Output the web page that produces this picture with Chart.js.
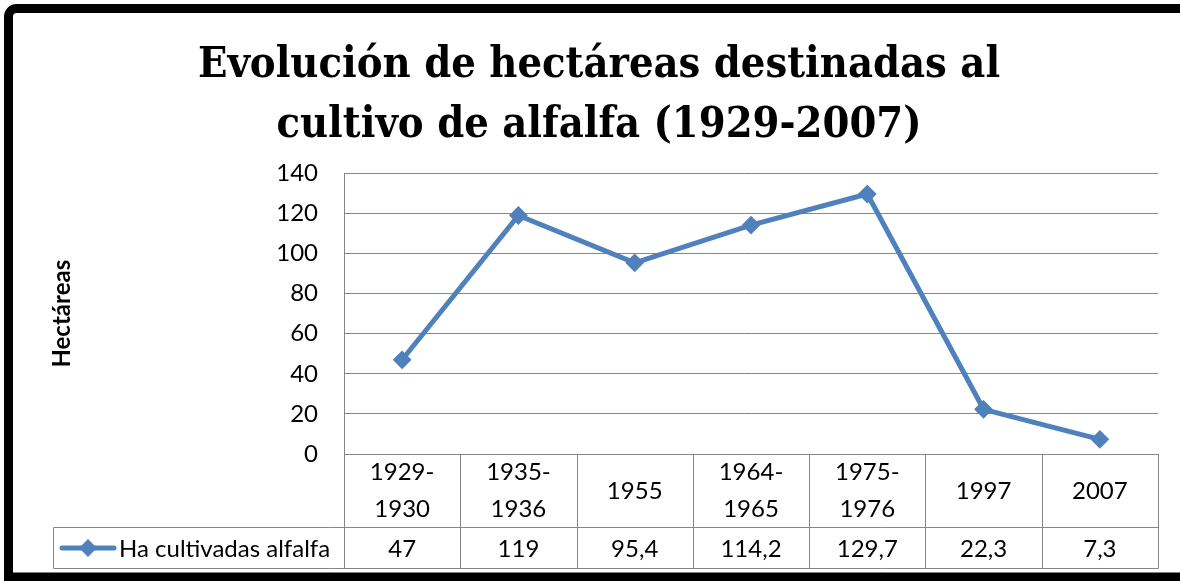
<!DOCTYPE html>
<html>
<head>
<meta charset="utf-8">
<script src="https://cdn.jsdelivr.net/npm/chart.js@4.4.1/dist/chart.umd.min.js"></script>
<style>
  html, body { margin: 0; padding: 0; background: #ffffff; }
  canvas { display: block; }
</style>
</head>
<body>
<canvas id="c" width="1180" height="581"></canvas>
<script>
// ---- data ----
const categories = [['1929-', '1930'], ['1935-', '1936'], ['1955'], ['1964-', '1965'], ['1975-', '1976'], ['1997'], ['2007']];
const values = [47, 119, 95.4, 114.2, 129.7, 22.3, 7.3];
const seriesName = 'Ha cultivadas alfalfa';
const titleLines = ['Evolución de hectáreas destinadas al', 'cultivo de alfalfa (1929-2007)'];
const yTitle = 'Hectáreas';
const yMin = 0, yMax = 140, yStep = 20;

const LINE = '#4F81BD';
const GRID = '#868686';
const TXT = '#000000';
const FONT = 'Lato, "Open Sans", sans-serif';
const FS = 24;

function fmt(v) { return String(v).replace('.', ','); }

const framePlugin = {
  id: 'frame',
  beforeDraw(chart) {
    const ctx = chart.ctx;
    ctx.save();
    ctx.fillStyle = '#ffffff';
    ctx.fillRect(0, 0, chart.width, chart.height);
    ctx.strokeStyle = '#000000';
    ctx.lineWidth = 9;
    const x = 8.5, y = 8.5, w = 1200, h = 577 - 8.5, r = 8;
    ctx.beginPath();
    ctx.moveTo(x + w, y);
    ctx.lineTo(x + r, y);
    ctx.arcTo(x, y, x, y + r, r);
    ctx.lineTo(x, y + h);
    ctx.lineTo(x + w, y + h);
    ctx.stroke();
    ctx.restore();
  }
};

const tablePlugin = {
  id: 'dataTable',
  afterDraw(chart) {
    const ctx = chart.ctx;
    const xs = chart.scales.x;
    const area = chart.chartArea;
    const ds = chart.data.datasets[0];
    const n = chart.data.labels.length;
    const top = area.bottom;
    const mid = 527.5;
    const bot = 568.5;
    const legLeft = 53.5;
    const left = Math.round(area.left) + 0.5;
    const right = Math.round(area.right) + 0.5;
    const bounds = [];
    for (let i = 0; i < n - 1; i++) {
      bounds.push(Math.round((xs.getPixelForValue(i) + xs.getPixelForValue(i + 1)) / 2) + 0.5);
    }
    ctx.save();
    ctx.strokeStyle = GRID;
    ctx.lineWidth = 1;
    ctx.beginPath();
    ctx.moveTo(legLeft, mid); ctx.lineTo(right, mid);
    ctx.moveTo(legLeft, bot); ctx.lineTo(right, bot);
    ctx.moveTo(legLeft, mid); ctx.lineTo(legLeft, bot);
    ctx.moveTo(left, top); ctx.lineTo(left, bot);
    ctx.moveTo(right, top); ctx.lineTo(right, bot);
    bounds.forEach(b => { ctx.moveTo(b, top); ctx.lineTo(b, bot); });
    ctx.stroke();

    ctx.fillStyle = TXT;
    ctx.font = FS + 'px ' + FONT;
    ctx.textAlign = 'center';
    ctx.textBaseline = 'middle';
    chart.data.labels.forEach((lab, i) => {
      const cx = xs.getPixelForValue(i);
      const lines = Array.isArray(lab) ? lab : [lab];
      if (lines.length === 1) {
        ctx.fillText(lines[0], cx, 491);
      } else {
        ctx.fillText(lines[0], cx, 472);
        ctx.fillText(lines[1], cx, 509);
      }
      ctx.fillText(fmt(ds.data[i]), cx, 549);
    });

    // legend sample
    ctx.strokeStyle = ds.borderColor;
    ctx.lineWidth = ds.borderWidth;
    ctx.lineCap = 'round';
    ctx.beginPath();
    ctx.moveTo(62, 548); ctx.lineTo(114, 548);
    ctx.stroke();
    ctx.fillStyle = ds.pointBackgroundColor;
    ctx.beginPath();
    const r = 9;
    ctx.moveTo(88, 548 - r); ctx.lineTo(88 + r, 548); ctx.lineTo(88, 548 + r); ctx.lineTo(88 - r, 548);
    ctx.closePath();
    ctx.fill();
    ctx.fillStyle = TXT;
    ctx.textAlign = 'left';
    ctx.fillText(ds.label, 119, 549);
    ctx.restore();
  }
};

new Chart(document.getElementById('c'), {
  type: 'line',
  data: {
    labels: categories,
    datasets: [{
      label: seriesName,
      data: values,
      borderColor: LINE,
      backgroundColor: LINE,
      borderWidth: 5,
      pointStyle: 'rectRot',
      pointRadius: 8,
      pointBorderWidth: 2,
      pointBackgroundColor: LINE,
      pointBorderColor: LINE,
      tension: 0,
      fill: false
    }]
  },
  options: {
    responsive: false,
    animation: false,
    devicePixelRatio: 1,
    layout: { padding: { left: 40, right: 22, top: 0, bottom: 127 } },
    plugins: {
      legend: { display: false },
      tooltip: { enabled: false },
      title: {
        display: true,
        text: titleLines,
        color: TXT,
        font: { family: '"DejaVu Serif Condensed", "DejaVu Serif", serif', size: 43, weight: 'bold', lineHeight: 1.4 },
        padding: { top: 36, bottom: 17 }
      }
    },
    scales: {
      x: {
        type: 'category',
        display: false,
        offset: true
      },
      y: {
        min: yMin,
        max: yMax,
        afterFit(scale) { scale.width = 304; },
        ticks: {
          stepSize: yStep,
          padding: 26,
          color: TXT,
          font: { family: FONT, size: FS }
        },
        grid: { color: GRID, lineWidth: 1, drawTicks: false },
        border: { display: true, color: GRID, width: 1 },
        title: {
          display: true,
          text: yTitle,
          color: TXT,
          font: { family: FONT, size: 24, weight: 'bold', lineHeight: 1.2 },
          padding: { top: 8, bottom: 0 }
        }
      }
    }
  },
  plugins: [framePlugin, tablePlugin]
});
</script>
</body>
</html>
